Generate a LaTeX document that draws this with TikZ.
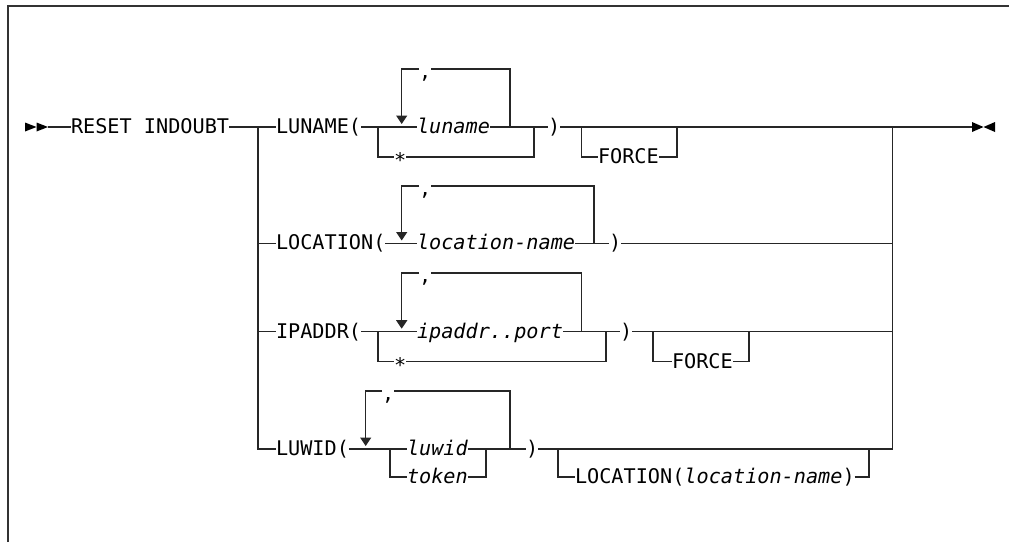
\documentclass[tikz,border=0pt]{standalone}
\usepackage{fontspec}
\newfontfamily\dmono{DejaVu Sans Mono}
\usetikzlibrary{arrows.meta}
\begin{document}
\begin{tikzpicture}[x=1pt,y=-1pt,
  rr/.style={line width=1.5pt, draw=black!85, line join=miter},
  txt/.style={inner sep=0pt, outer sep=0pt, anchor=west, text height=12.6pt, text depth=0pt, font=\fontsize{20.2}{21}\selectfont\dmono},
  var/.style={txt, font=\fontsize{20.2}{21}\selectfont\dmono\itshape},
  loopdown/.style={rr, -{Triangle[width=11pt,length=8.5pt]}},
  tip/.style={fill=black}
]
\useasboundingbox (0,0) rectangle (1009,542);
% frame
\draw[line width=2pt, draw=black!80] (7.5,542) -- (7.5,5.5) -- (1009,5.5);

% start / end markers
\fill[tip] (25,122.5) -- (36.5,127) -- (25,131.5) -- cycle;
\fill[tip] (36.5,122.5) -- (48,127) -- (36.5,131.5) -- cycle;
\coordinate (start) at (48,127);
\fill[tip] (972,122) -- (983.5,127) -- (972,132) -- cycle;
\fill[tip] (995,122) -- (983.5,127) -- (995,132) -- cycle;
\coordinate (finish) at (972,127);

% junction coordinates
\coordinate (brTop) at (258,127);
\coordinate (rjA) at (892.7,127);
\coordinate (rjB) at (892.7,243.5);
\coordinate (rjC) at (892.7,331.7);

% ---- texts ----
\node[txt] (reset) at (71,127) {RESET INDOUBT};
% row A
\node[txt] (kA) at (276,127) {LUNAME(};
\node[var] (vA) at (417,127) {luname};
\node[txt] (sA) at (394,157) {\raisebox{-4pt}{*}};
\node[txt] (cA) at (419,69) {\raisebox{-3pt}{,}};
\node[txt] (pA) at (548,127) {)};
\node[txt] (fA) at (598,157) {FORCE};
% row B
\node[txt] (kB) at (276,243.5) {LOCATION(};
\node[var] (vB) at (417,243.5) {location-name};
\node[txt] (cB) at (419,186) {\raisebox{-3pt}{,}};
\node[txt] (pB) at (609,243.5) {)};
% row C
\node[txt] (kC) at (276,331.7) {IPADDR(};
\node[var] (vC) at (417,331.7) {ipaddr..port};
\node[txt] (sC) at (394,361.7) {\raisebox{-4pt}{*}};
\node[txt] (cC) at (419,273) {\raisebox{-3pt}{,}};
\node[txt] (pC) at (620,331.7) {)};
\node[txt] (fC) at (672,361.7) {FORCE};
% row D
\node[txt] (kD) at (276,449) {LUWID(};
\node[var] (vD) at (407,449) {luwid};
\node[var] (tD) at (407,477) {token};
\node[txt] (cD) at (382,391) {\raisebox{-3pt}{,}};
\node[txt] (pD) at (526,449) {)};
\node[txt] (lD) at (575,477) {LOCATION({\itshape location-name})};

% ---- lines ----
\draw[rr] (start) -- (reset.west);
\draw[rr] (reset.east) -- (kA.west);
\draw[rr] (brTop) |- (kD.west);
\draw[rr] (brTop |- kB.west) -- (kB.west);
\draw[rr] (brTop |- kC.west) -- (kC.west);

% row A
\draw[rr] (kA.east) -- (vA.west);
\draw[rr] (378,127) |- (sA.west);
\draw[rr] (sA.east) -| (534,127);
\draw[loopdown] (cA.west) -| (401.7,124);
\draw[rr] (cA.east) -| (510,127);
\draw[rr] (vA.east) -- (pA.west);
\draw[rr] (pA.east) -- (finish);
\draw[rr] (581.7,127) |- (fA.west);
\draw[rr] (fA.east) -| (677,127);

% row B
\draw[rr] (kB.east) -- (vB.west);
\draw[loopdown] (cB.west) -| (401.7,240.5);
\draw[rr] (cB.east) -| (594,243.5);
\draw[rr] (vB.east) -- (pB.west);
\draw[rr] (pB.east) -- (rjB);

% row C
\draw[rr] (kC.east) -- (vC.west);
\draw[rr] (378,331.7) |- (sC.west);
\draw[rr] (sC.east) -| (606,331.7);
\draw[loopdown] (cC.west) -| (401.7,328.7);
\draw[rr] (cC.east) -| (581.7,331.7);
\draw[rr] (vC.east) -- (pC.west);
\draw[rr] (pC.east) -- (rjC);
\draw[rr] (653,331.7) |- (fC.west);
\draw[rr] (fC.east) -| (749,331.7);

% row D
\draw[rr] (kD.east) -- (vD.west);
\draw[rr] (390,449) |- (tD.west);
\draw[rr] (tD.east) -| (486,449);
\draw[loopdown] (cD.west) -| (365.7,446);
\draw[rr] (cD.east) -| (510,449);
\draw[rr] (vD.east) -- (pD.west);
\draw[rr] (pD.east) -| (rjA);
\draw[rr] (558,449) |- (lD.west);
\draw[rr] (lD.east) -| (869,449);
\end{tikzpicture}
\end{document}
